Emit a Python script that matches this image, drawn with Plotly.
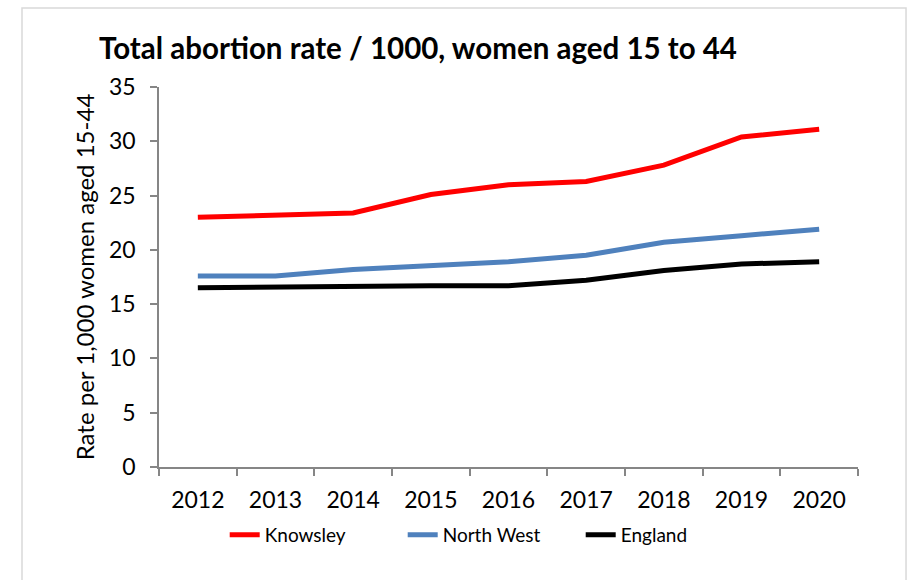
import plotly.graph_objects as go

years = ["2012", "2013", "2014", "2015", "2016", "2017", "2018", "2019", "2020"]
knowsley = [23.0, 23.2, 23.4, 25.1, 26.0, 26.3, 27.8, 30.4, 31.1]
north_west = [17.6, 17.6, 18.2, 18.5, 18.9, 19.5, 20.7, 21.3, 21.9]
england = [16.5, 16.6, 16.6, 16.7, 16.7, 17.2, 18.1, 18.7, 18.9]

series_names = ["Knowsley", "North West", "England"]
series_values = [knowsley, north_west, england]
series_colors = ["#FF0000", "#4F81BD", "#000000"]

FONT = "Lato"
AXIS_GREY = "#868686"

fig = go.Figure()
for name, vals, col in zip(series_names, series_values, series_colors):
    fig.add_trace(go.Scatter(
        x=years, y=vals, name=name, mode="lines",
        line=dict(color=col, width=5),
    ))

# outer chart frame
fig.add_shape(type="rect", xref="paper", yref="paper",
              x0=-0.196, x1=1.0687, y0=-0.4, y1=1.2079,
              line=dict(color="#D9D9D9", width=1.5), fillcolor="rgba(0,0,0,0)",
              layer="below")

fig.add_annotation(
    text="<b>Total abortion rate / 1000, women aged 15 to 44</b>",
    xref="paper", yref="paper", x=-0.088, y=1.105,
    xanchor="left", yanchor="middle", showarrow=False,
    font=dict(family=FONT, size=29.5, color="#000000"),
)

fig.update_layout(
    width=908, height=580,
    margin=dict(l=159, r=50, t=87, b=113),
    paper_bgcolor="white", plot_bgcolor="white",
    font=dict(family=FONT, color="#000000"),
    showlegend=True,
    legend=dict(
        orientation="h", x=0.094, y=-0.179,
        xanchor="left", yanchor="middle",
        font=dict(family=FONT, size=19, color="#000000"),
        entrywidth=133, entrywidthmode="pixels",
        tracegroupgap=0,
    ),
)

fig.update_xaxes(
    type="category", range=[-0.5, len(years) - 0.5],
    showline=True, linecolor=AXIS_GREY, linewidth=1.5,
    ticks="outside", ticklen=7, tickcolor=AXIS_GREY, tickwidth=1.5,
    tickson="boundaries", showgrid=False, zeroline=False,
    ticklabelstandoff=12,
    tickfont=dict(family=FONT, size=23, color="#000000"),
)
fig.update_yaxes(
    range=[0, 35], dtick=5, tick0=0,
    showline=True, linecolor=AXIS_GREY, linewidth=1.5,
    ticks="outside", ticklen=7, tickcolor=AXIS_GREY, tickwidth=1.5,
    showgrid=False, zeroline=False,
    ticklabelstandoff=10,
    tickfont=dict(family=FONT, size=23, color="#000000"),
    title=dict(text="Rate per 1,000 women aged 15-44",
               font=dict(family=FONT, size=24, color="#000000"), standoff=8),
)

fig.write_html("out.html")
